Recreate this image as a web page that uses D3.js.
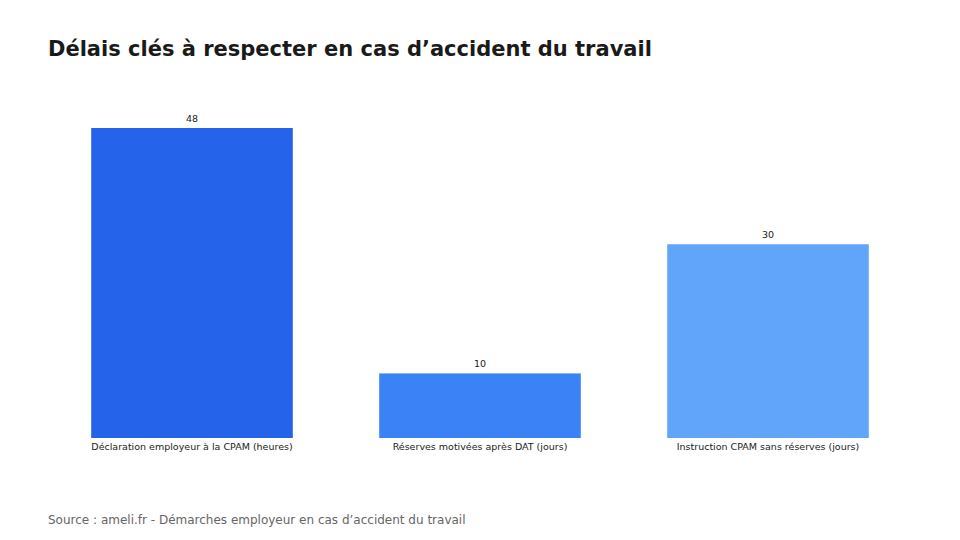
<!DOCTYPE html>
<html><head><meta charset="utf-8">
<script src="https://cdn.jsdelivr.net/npm/d3@7"></script>
<style>body{margin:0;background:#fff}svg{display:block}</style></head>
<body><svg id="c" width="960" height="540"></svg>
<script>
const categories = ["Déclaration employeur à la CPAM (heures)", "Réserves motivées après DAT (jours)", "Instruction CPAM sans réserves (jours)"];
const values = [48, 10, 30];
const colors = ["#2563eb", "#3b82f6", "#60a5fa"];
const title = "Délais clés à respecter en cas d’accident du travail";
const source = "Source : ameli.fr - Démarches employeur en cas d’accident du travail";

const svg = d3.select("#c");
const font = "DejaVu Sans, sans-serif";
const x = d3.scaleBand().domain(categories).range([48, 912]).paddingInner(0.3).paddingOuter(0.15);
const y = d3.scaleLinear().domain([0, 48]).range([438, 128]);

svg.append("text").attr("x", 48).attr("y", 56).attr("font-family", font).attr("font-weight", "bold")
  .attr("font-size", 21).attr("fill", "#1a1a1a").text(title);

svg.selectAll("rect.bar").data(values).join("rect").attr("class", "bar")
  .attr("x", (d, i) => x(categories[i])).attr("width", x.bandwidth())
  .attr("y", d => y(d)).attr("height", d => y(0) - y(d)).attr("fill", (d, i) => colors[i]);

svg.selectAll("text.val").data(values).join("text").attr("class", "val")
  .attr("x", (d, i) => x(categories[i]) + x.bandwidth() / 2).attr("y", d => y(d) - 6)
  .attr("text-anchor", "middle").attr("font-family", font).attr("font-size", 9.5).attr("fill", "#222").text(d => d);

const ax = svg.append("g").attr("transform", "translate(0,438)").call(d3.axisBottom(x).tickSize(0).tickPadding(5));
ax.select(".domain").remove();
ax.selectAll("text").attr("font-family", font).attr("font-size", 9.5).attr("fill", "#222");

svg.append("text").attr("x", 48).attr("y", 524).attr("font-family", font).attr("font-size", 12)
  .attr("fill", "#666").text(source);
</script></body></html>
